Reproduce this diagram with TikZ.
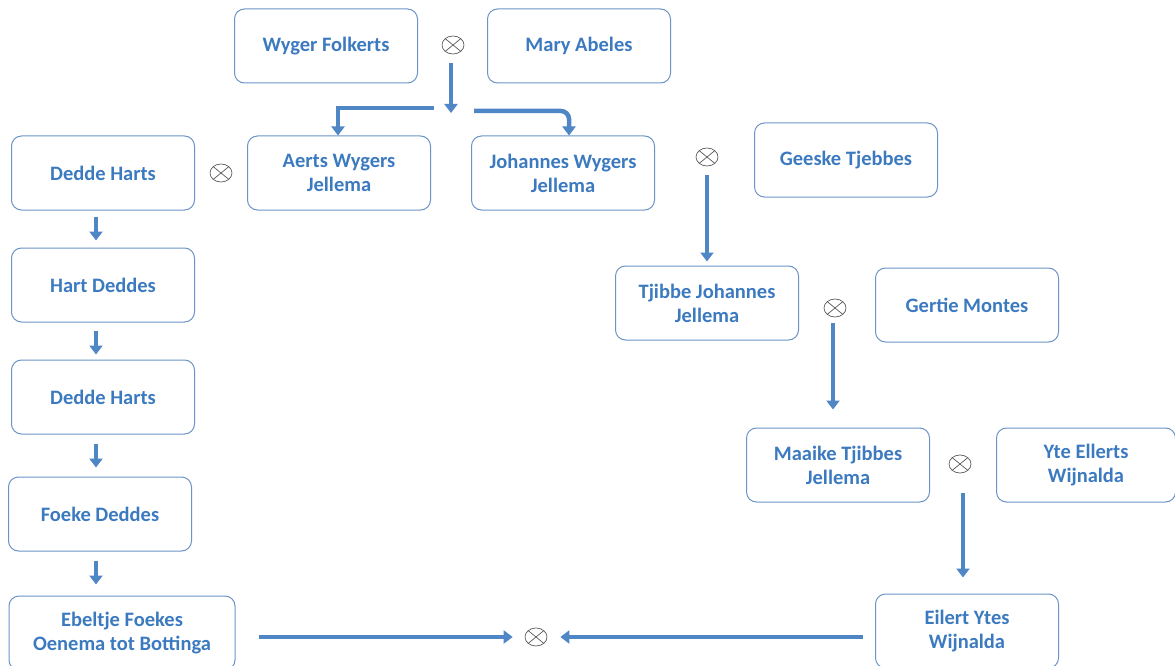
\documentclass[tikz,border=0pt]{standalone}
\usepackage{fontspec}
\setmainfont{Carlito}
\usetikzlibrary{arrows.meta,shapes.geometric}
\definecolor{boxline}{HTML}{6A93C6}
\definecolor{namecol}{HTML}{3C7AC0}
\definecolor{arrowcol}{HTML}{4F86C6}
\definecolor{ringcol}{HTML}{5A5A5A}

\begin{document}
\begin{tikzpicture}[x=1pt,y=-1pt]
    \tikzstyle{person}=[rectangle, draw=boxline, line width=1pt, rounded corners=10pt, minimum width=183pt, minimum height=74pt, align=center, text=namecol, font=\fontsize{20.5}{24}\selectfont\bfseries]
    \tikzstyle{wed}=[ellipse, draw=ringcol, line width=0.7pt, minimum width=22pt, minimum height=18pt, inner sep=0pt, path picture={\draw[ringcol, line width=0.7pt] (path picture bounding box.north west) -- (path picture bounding box.south east) (path picture bounding box.north east) -- (path picture bounding box.south west);}]
    \tikzstyle{arr}=[draw=arrowcol, line width=4.5pt, -{Triangle[width=13pt,length=9pt]}]

    \useasboundingbox (0,0) rectangle (1175,666);

    \node [person] (wf) at (326,46) {Wyger Folkerts};
    \node [person] (ma) at (579,46) {Mary Abeles};
    \node [person] (aw) at (339,173) {Aerts Wygers\\Jellema};
    \node [person] (jw) at (563,173) {Johannes Wygers\\Jellema};
    \node [person] (dh) at (103,173) {Dedde Harts};
    \node [person] (gt) at (846,160) {Geeske Tjebbes};
    \node [person] (hd) at (103,285) {Hart Deddes};
    \node [person] (tj) at (707,303) {Tjibbe Johannes\\Jellema};
    \node [person] (gm) at (967,305) {Gertie Montes};
    \node [person] (dh2) at (103,397) {Dedde Harts};
    \node [person] (mt) at (838,465) {Maaike Tjibbes\\Jellema};
    \node [person, minimum width=179pt] (ye) at (1086,465) {Yte Ellerts\\Wijnalda};
    \node [person] (fd) at (100,514) {Foeke Deddes};
    \node [person, minimum width=226pt] (eb) at (122,633) {Ebeltje Foekes\\Oenema tot Bottinga};
    \node [person] (ey) at (967,631) {Eilert Ytes\\Wijnalda};

    \node [wed] (r1) at (453,45) {};
    \node [wed] (r2) at (221,173) {};
    \node [wed] (r3) at (707,157) {};
    \node [wed] (r4) at (835,308) {};
    \node [wed] (r5) at (960,464) {};
    \node [wed] (r6) at (536,637) {};

    \coordinate (fork) at (451,113);
    \coordinate (forkl) at (434,108);
    \coordinate (forkr) at (474,111);
    \coordinate (col) at (96,0);

    \draw [arr, shorten <=9pt] (r1.south -| fork) -- (fork);
    \draw [arr] (forkl) -| ([xshift=-1pt]aw.north);
    \draw [arr, rounded corners=8pt] (forkr) -| ([xshift=6pt]jw.north);

    \draw [arr, shorten <=6pt, shorten >=7pt] (dh.south -| col) -- (hd.north -| col);
    \draw [arr, shorten <=8pt, shorten >=5pt] (hd.south -| col) -- (dh2.north -| col);
    \draw [arr, shorten <=9pt, shorten >=9pt] (dh2.south -| col) -- (fd.north -| col);
    \draw [arr, shorten <=9pt, shorten >=11pt] (fd.south -| col) -- (eb.north -| col);

    \draw [arr, shorten <=9pt, shorten >=4pt] (r3) -- (tj);
    \draw [arr, shorten <=6pt, shorten >=18pt] ([xshift=-2pt]r4.south) -- ([xshift=-2pt]r4.south |- mt.north);
    \draw [arr, shorten <=20pt, shorten >=16pt] ([xshift=3pt]r5.south) -- ([xshift=3pt]r5.south |- ey.north);

    \draw [arr, shorten <=23pt, shorten >=12pt] (eb.east |- r6) -- (r6.west);
    \draw [arr, shorten <=12pt, shorten >=13pt] (ey.west |- r6) -- (r6.east);
\end{tikzpicture}
\end{document}
